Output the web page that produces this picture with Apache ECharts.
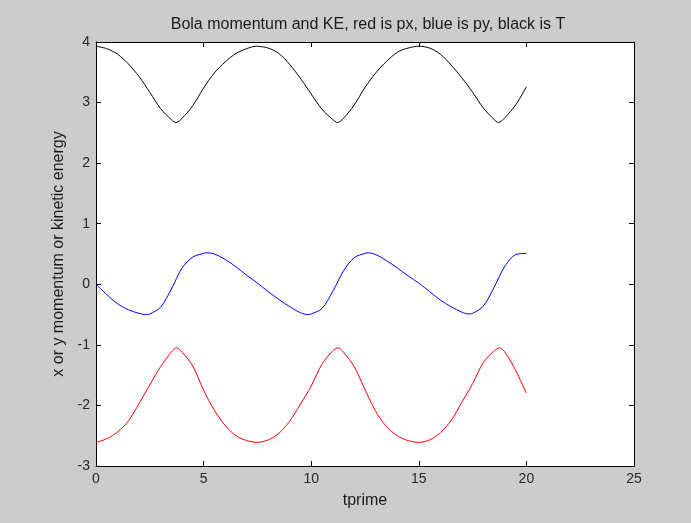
<!DOCTYPE html>
<html>
<head>
<meta charset="utf-8">
<script src="https://cdn.jsdelivr.net/npm/echarts@6/dist/echarts.min.js"></script>
<style>
  html, body { margin: 0; padding: 0; background: #cccccc; }
  #chart { width: 691px; height: 523px; }
</style>
</head>
<body>
<div id="chart"></div>
<script>
// red: px vs tprime
var tPx = [0, 0.5, 1, 1.5, 2, 2.5, 3, 3.5, 3.75, 4, 4.5, 5, 5.5, 6, 6.5, 7, 7.5, 8, 8.5, 9, 9.5, 10, 10.5, 11, 11.25, 11.5,
  12, 12.5, 13, 13.5, 14, 14.5, 15, 15.5, 16, 16.5, 17, 17.5, 18, 18.5, 18.75, 19, 19.5, 20]
var px = [-2.61, -2.55, -2.44, -2.26, -1.97, -1.66, -1.36, -1.12, -1.05, -1.12, -1.35, -1.75, -2.08, -2.33, -2.50, -2.58, -2.61, -2.57, -2.46, -2.26, -1.98, -1.68, -1.32, -1.10, -1.05, -1.12,
  -1.36, -1.74, -2.10, -2.35, -2.50, -2.58, -2.61, -2.57, -2.45, -2.25, -1.95, -1.64, -1.29, -1.10, -1.05, -1.12, -1.42, -1.80]

// blue: py vs tprime
var tPy = [0, 0.5, 1, 1.5, 2, 2.3, 2.5, 3, 3.5, 4, 4.5, 5, 5.15, 5.5, 6, 6.5, 7, 7.5, 8, 8.5, 9, 9.5, 9.85, 10, 10.5, 11, 11.5,
  12, 12.5, 12.65, 13, 13.5, 14, 14.5, 15, 15.5, 16, 16.5, 17, 17.3, 17.5, 18, 18.5, 19, 19.5, 20]
var py = [0.00, -0.17, -0.32, -0.42, -0.48, -0.50, -0.49, -0.38, -0.08, 0.27, 0.45, 0.51, 0.52, 0.50, 0.41, 0.29, 0.15, 0.02, -0.12, -0.25, -0.37, -0.47, -0.50, -0.49, -0.40, -0.12, 0.22,
  0.44, 0.51, 0.52, 0.49, 0.39, 0.27, 0.14, 0.02, -0.12, -0.26, -0.37, -0.46, -0.49, -0.48, -0.36, -0.05, 0.30, 0.49, 0.51]

// black: T vs tprime
var tT = [0, 0.5, 1, 1.5, 2, 2.5, 3, 3.5, 3.72, 4, 4.5, 5, 5.5, 6, 6.5, 7, 7.45, 8, 8.5, 9, 9.5, 10, 10.5, 11, 11.22, 11.5,
  12, 12.5, 13, 13.5, 14, 14.5, 15, 15.5, 16, 16.5, 17, 17.5, 18, 18.5, 18.7, 19, 19.5, 20]
var T = [3.93, 3.89, 3.80, 3.64, 3.43, 3.17, 2.90, 2.72, 2.67, 2.74, 2.95, 3.24, 3.49, 3.67, 3.81, 3.89, 3.93, 3.90, 3.81, 3.63, 3.40, 3.14, 2.89, 2.72, 2.67, 2.74,
  2.96, 3.25, 3.49, 3.68, 3.83, 3.90, 3.93, 3.90, 3.80, 3.62, 3.41, 3.17, 2.91, 2.72, 2.67, 2.75, 2.96, 3.26]

function pairs (ts, ys) {
  return ts.map(function (t, i) { return [t, ys[i]] })
}

var chart = echarts.init(document.getElementById('chart'))
var font = 'Liberation Sans, Arial, sans-serif'
var tickText = { color: '#262626', fontSize: 14, fontFamily: font }
var labelText = { color: '#1a1a1a', fontSize: 16, fontFamily: font }
var frame = { onZero: false, lineStyle: { color: '#000', width: 1 } }
var ticks = { inside: true, length: 5, lineStyle: { color: '#000' } }

chart.setOption({
  backgroundColor: '#cccccc',
  animation: false,
  title: {
    text: 'Bola momentum and KE, red is px, blue is py, black is T',
    left: 363,
    textAlign: 'center',
    top: 12,
    textStyle: Object.assign({ fontWeight: 'normal' }, labelText)
  },
  grid: {
    left: 96,
    right: 57,
    top: 42,
    bottom: 57,
    show: true,
    backgroundColor: '#ffffff',
    borderWidth: 0
  },
  xAxis: [
    {
      type: 'value',
      min: 0,
      max: 25,
      interval: 5,
      name: 'tprime',
      nameLocation: 'middle',
      nameGap: 27,
      nameTextStyle: labelText,
      axisLine: frame,
      axisTick: ticks,
      axisLabel: Object.assign({ margin: 6 }, tickText),
      splitLine: { show: false }
    },
    {
      type: 'value',
      position: 'top',
      min: 0,
      max: 25,
      interval: 5,
      axisLine: frame,
      axisTick: ticks,
      axisLabel: { show: false },
      splitLine: { show: false }
    }
  ],
  yAxis: [
    {
      type: 'value',
      min: -3,
      max: 4,
      interval: 1,
      name: 'x or y momentum or kinetic energy',
      nameLocation: 'middle',
      nameGap: 27,
      nameTextStyle: labelText,
      axisLine: frame,
      axisTick: ticks,
      axisLabel: Object.assign({ margin: 6 }, tickText),
      splitLine: { show: false }
    },
    {
      type: 'value',
      position: 'right',
      min: -3,
      max: 4,
      interval: 1,
      axisLine: frame,
      axisTick: ticks,
      axisLabel: { show: false },
      splitLine: { show: false }
    }
  ],
  series: [
    {
      name: 'px', type: 'line', data: pairs(tPx, px), smooth: 0.3, showSymbol: false,
      lineStyle: { color: '#ff0000', width: 1 }
    },
    {
      name: 'py', type: 'line', data: pairs(tPy, py), smooth: 0.3, showSymbol: false,
      lineStyle: { color: '#0000ff', width: 1 }
    },
    {
      name: 'T', type: 'line', data: pairs(tT, T), smooth: 0.3, showSymbol: false,
      lineStyle: { color: '#000000', width: 1 }
    }
  ]
})
</script>
</body>
</html>
